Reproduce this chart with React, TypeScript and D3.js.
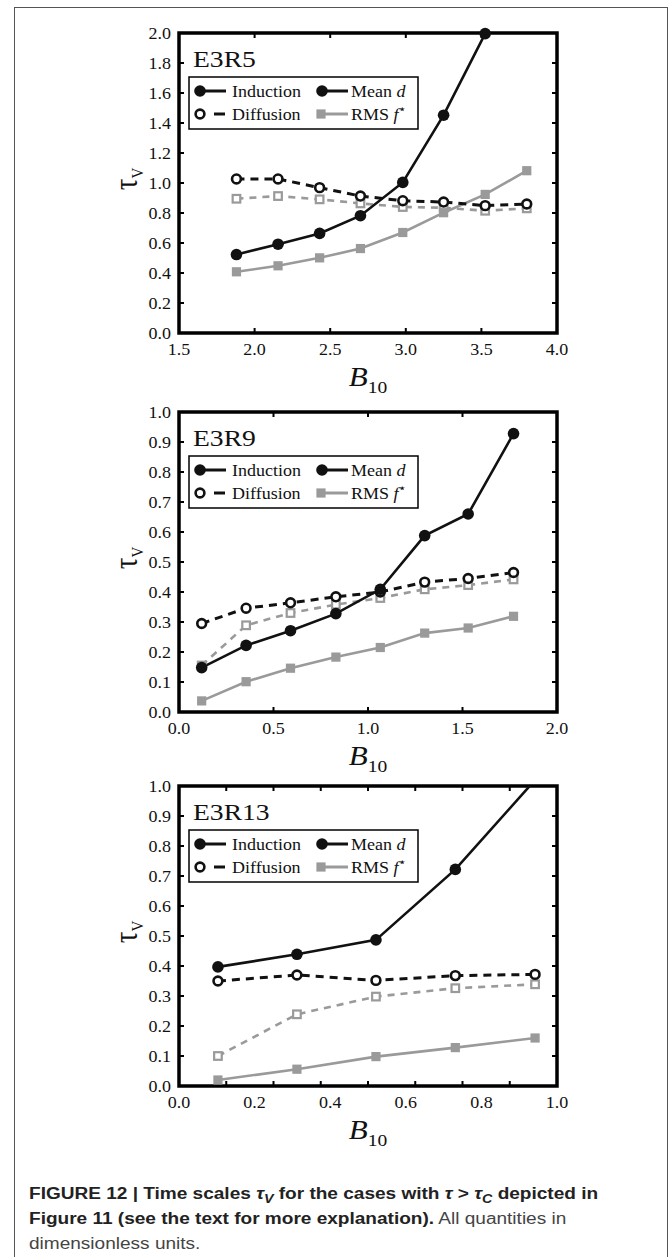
import React from "react";
import * as d3 from "d3";

// E3R5
const e3r5B = [1.88, 2.155, 2.43, 2.7, 2.98, 3.25, 3.525, 3.8];
const e3r5Induction = [0.523, 0.592, 0.664, 0.782, 1.004, 1.452, 1.996];
const e3r5Diffusion = [1.027, 1.027, 0.969, 0.913, 0.882, 0.873, 0.849, 0.86];
const e3r5MeanD = [0.895, 0.913, 0.891, 0.864, 0.84, 0.835, 0.815, 0.831];
const e3r5Rms = [0.408, 0.448, 0.501, 0.563, 0.67, 0.802, 0.924, 1.082];

// E3R9
const e3r9B = [0.12, 0.355, 0.59, 0.83, 1.065, 1.3, 1.53, 1.77];
const e3r9Induction = [0.148, 0.222, 0.271, 0.328, 0.409, 0.588, 0.66, 0.928];
const e3r9Diffusion = [0.295, 0.346, 0.364, 0.384, 0.4, 0.433, 0.445, 0.465];
const e3r9MeanD = [0.155, 0.289, 0.33, 0.358, 0.38, 0.409, 0.423, 0.442];
const e3r9Rms = [0.037, 0.101, 0.146, 0.183, 0.215, 0.263, 0.28, 0.319];

// E3R13
const e3r13B = [0.103, 0.312, 0.521, 0.731, 0.942];
const e3r13Induction = [0.397, 0.439, 0.487, 0.722, 1.02];
const e3r13Diffusion = [0.35, 0.37, 0.352, 0.368, 0.372];
const e3r13MeanD = [0.1, 0.239, 0.298, 0.326, 0.339];
const e3r13Rms = [0.02, 0.056, 0.098, 0.128, 0.16];

// axes
const xLabels1 = [1.5, 2.0, 2.5, 3.0, 3.5, 4.0];
const xMarks1 = [2.0, 2.5, 3.0, 3.5];
const yLabels1 = [0, 0.2, 0.4, 0.6, 0.8, 1.0, 1.2, 1.4, 1.6, 1.8, 2.0];
const xLabels2 = [0, 0.5, 1.0, 1.5, 2.0];
const xMarks2 = [0.5, 1.0, 1.5];
const xLabels3 = [0, 0.2, 0.4, 0.6, 0.8, 1.0];
const xMarks3 = [0.125, 0.25, 0.375, 0.5, 0.625, 0.75, 0.875];
const yLabelsTenth = [0, 0.1, 0.2, 0.3, 0.4, 0.5, 0.6, 0.7, 0.8, 0.9, 1.0];

const W = 669;
const H = 1257;
const X0 = 179;
const X1 = 557;
const PH = 300;
const SX = 1.125; // the figure is stretched sideways a little
const CAP_SX = 1.19;
const SERIF = "'Liberation Serif', 'Times New Roman', serif";
const SANS = "'Liberation Sans', Arial, Helvetica, sans-serif";
const BLACK = "#111";
const GRAY = "#9a9a9a";

const panels = [
  { id: "p1", name: "E3R5", top: 33, xDomain: [1.5, 4.0], yDomain: [0, 2.0], xLabels: xLabels1, xMarks: xMarks1, yLabels: yLabels1,
    b: e3r5B, induction: e3r5Induction, diffusion: e3r5Diffusion, meanD: e3r5MeanD, rms: e3r5Rms },
  { id: "p2", name: "E3R9", top: 412, xDomain: [0, 2.0], yDomain: [0, 1.0], xLabels: xLabels2, xMarks: xMarks2, yLabels: yLabelsTenth,
    b: e3r9B, induction: e3r9Induction, diffusion: e3r9Diffusion, meanD: e3r9MeanD, rms: e3r9Rms },
  { id: "p3", name: "E3R13", top: 786, xDomain: [0, 1.0], yDomain: [0, 1.0], xLabels: xLabels3, xMarks: xMarks3, yLabels: yLabelsTenth,
    b: e3r13B, induction: e3r13Induction, diffusion: e3r13Diffusion, meanD: e3r13MeanD, rms: e3r13Rms },
];

const Stretched = ({ x, y, anchor = "start", size, sx = SX, children, ...rest }: any) => (
  <text transform={`translate(${x},${y}) scale(${sx},1)`} textAnchor={anchor} fontSize={size} fontFamily={SERIF} fill="#111" {...rest}>
    {children}
  </text>
);

const Panel = ({ p }: any) => {
  const x = d3.scaleLinear().domain(p.xDomain).range([X0, X1]);
  const y = d3.scaleLinear().domain(p.yDomain).range([p.top + PH, p.top]);
  const yMax = p.yDomain[1];
  const bottom = p.top + PH;

  const pts = (vals: number[]) => vals.map((v, i) => [p.b[i], v] as [number, number]);
  const line = d3.line<[number, number]>().x((d) => x(d[0])).y((d) => y(d[1]));
  const visible = (vals: number[]) => pts(vals).filter((d) => d[1] <= yMax);

  return (
    <g>
      <defs>
        <clipPath id={`clip-${p.id}`}>
          <rect x={X0} y={p.top} width={X1 - X0} height={PH} />
        </clipPath>
      </defs>

      {/* y tick labels */}
      {p.yLabels.map((v: number) => (
        <Stretched key={`yl${v}`} x={171} y={y(v) + 5.5} anchor="end" size={16}>
          {v.toFixed(1)}
        </Stretched>
      ))}
      {/* x tick labels */}
      {p.xLabels.map((v: number) => (
        <Stretched key={`xl${v}`} x={x(v)} y={bottom + 22} anchor="middle" size={16}>
          {v.toFixed(1)}
        </Stretched>
      ))}

      {/* frame and inner ticks */}
      <rect x={X0} y={p.top} width={X1 - X0} height={PH} fill="none" stroke="#000" strokeWidth={3.5} />
      {p.yLabels.slice(1, -1).map((v: number) => (
        <g key={`yt${v}`} stroke="#000" strokeWidth={2}>
          <line x1={X0} x2={X0 + 5} y1={y(v)} y2={y(v)} />
          <line x1={X1 - 5} x2={X1} y1={y(v)} y2={y(v)} />
        </g>
      ))}
      {p.xMarks.map((v: number) => (
        <g key={`xt${v}`} stroke="#000" strokeWidth={2}>
          <line x1={x(v)} x2={x(v)} y1={bottom} y2={bottom - 5} />
          <line x1={x(v)} x2={x(v)} y1={p.top} y2={p.top + 5} />
        </g>
      ))}

      {/* series lines */}
      <g clipPath={`url(#clip-${p.id})`} fill="none">
        <path d={line(pts(p.meanD)) || ""} stroke={GRAY} strokeWidth={2.6} strokeDasharray="7,6" />
        <path d={line(pts(p.rms)) || ""} stroke={GRAY} strokeWidth={2.6} />
        <path d={line(pts(p.diffusion)) || ""} stroke={BLACK} strokeWidth={3} strokeDasharray="8,6" />
        <path d={line(pts(p.induction)) || ""} stroke={BLACK} strokeWidth={2.6} />
      </g>

      {/* markers */}
      {visible(p.meanD).map((d, i) => (
        <rect key={`m${i}`} x={x(d[0]) - 3.8} y={y(d[1]) - 3.8} width={7.6} height={7.6} fill="#fff" stroke={GRAY} strokeWidth={2.2} />
      ))}
      {visible(p.rms).map((d, i) => (
        <rect key={`r${i}`} x={x(d[0]) - 4.6} y={y(d[1]) - 4.6} width={9.2} height={9.2} fill={GRAY} />
      ))}
      {visible(p.diffusion).map((d, i) => (
        <circle key={`d${i}`} cx={x(d[0])} cy={y(d[1])} r={4.4} fill="#fff" stroke={BLACK} strokeWidth={2.6} />
      ))}
      {visible(p.induction).map((d, i) => (
        <circle key={`i${i}`} cx={x(d[0])} cy={y(d[1])} r={5.8} fill={BLACK} />
      ))}

      {/* case name */}
      <Stretched x={193} y={p.top + 34} size={24} sx={1.15}>
        {p.name}
      </Stretched>

      {/* legend */}
      <g>
        <rect x={189} y={p.top + 44} width={229} height={52} fill="#fff" stroke="#000" strokeWidth={1.5} />
        <line x1={200} x2={226} y1={p.top + 58} y2={p.top + 58} stroke={BLACK} strokeWidth={3} />
        <circle cx={200} cy={p.top + 58} r={5.8} fill={BLACK} />
        <Stretched x={232} y={p.top + 63.5} size={16}>Induction</Stretched>
        <line x1={322} x2={348} y1={p.top + 58} y2={p.top + 58} stroke={BLACK} strokeWidth={3} />
        <circle cx={322} cy={p.top + 58} r={5.8} fill={BLACK} />
        <Stretched x={351} y={p.top + 63.5} size={16}>
          Mean <tspan fontStyle="italic">d</tspan>
        </Stretched>

        <line x1={214} x2={225} y1={p.top + 81} y2={p.top + 81} stroke={BLACK} strokeWidth={3} />
        <circle cx={200} cy={p.top + 81} r={4.4} fill="#fff" stroke={BLACK} strokeWidth={2.6} />
        <Stretched x={232} y={p.top + 86.5} size={16}>Diffusion</Stretched>
        <line x1={321} x2={348} y1={p.top + 81} y2={p.top + 81} stroke={GRAY} strokeWidth={3} />
        <rect x={316.4} y={p.top + 76.4} width={9.2} height={9.2} fill={GRAY} />
        <Stretched x={351} y={p.top + 86.5} size={16}>
          RMS <tspan fontStyle="italic">f</tspan>
          <tspan fontSize={12} dy={-7}>⋆</tspan>
        </Stretched>
      </g>

      {/* axis titles */}
      <text transform={`translate(137,${p.top + PH / 2 - 4}) scale(1.15,1) rotate(-90)`} textAnchor="middle" fontFamily={SERIF} fill="#111">
        <tspan fontSize={29}>τ</tspan>
        <tspan fontSize={15} dy={5}>V</tspan>
      </text>
      <Stretched x={368} y={bottom + 53} anchor="middle" size={27} sx={1.15}>
        <tspan fontStyle="italic">B</tspan>
        <tspan fontSize={17} dy={7}>10</tspan>
      </Stretched>
    </g>
  );
};

const Caption = ({ y, children, ...rest }: any) => (
  <text transform={`translate(29,${y}) scale(${CAP_SX},1)`} {...rest}>
    {children}
  </text>
);

export default function App() {
  return (
    <svg width={W} height={H} viewBox={`0 0 ${W} ${H}`} style={{ position: "absolute", left: 0, top: 0, background: "#fff" }}>
      <rect x={0} y={0} width={W} height={H} fill="#fff" />
      <rect x={14.5} y={7.5} width={653} height={1300} fill="none" stroke="#555" strokeWidth={1} />
      {panels.map((p) => (
        <Panel key={p.id} p={p} />
      ))}
      <g fontFamily={SANS} fontSize={16} fill="#222">
        <Caption y={1199} fontWeight="bold">
          FIGURE 12 | Time scales <tspan fontStyle="italic">τ</tspan>
          <tspan fontStyle="italic" fontSize={12} dy={4}>V</tspan>
          <tspan dy={-4}> for the cases with </tspan>
          <tspan fontStyle="italic">τ</tspan> {">"} <tspan fontStyle="italic">τ</tspan>
          <tspan fontStyle="italic" fontSize={12} dy={4}>C</tspan>
          <tspan dy={-4}> depicted in</tspan>
        </Caption>
        <Caption y={1224}>
          <tspan fontWeight="bold">Figure 11 (see the text for more explanation).</tspan>
          <tspan fill="#444"> All quantities in</tspan>
        </Caption>
        <Caption y={1249} fill="#444">
          dimensionless units.
        </Caption>
      </g>
    </svg>
  );
}
